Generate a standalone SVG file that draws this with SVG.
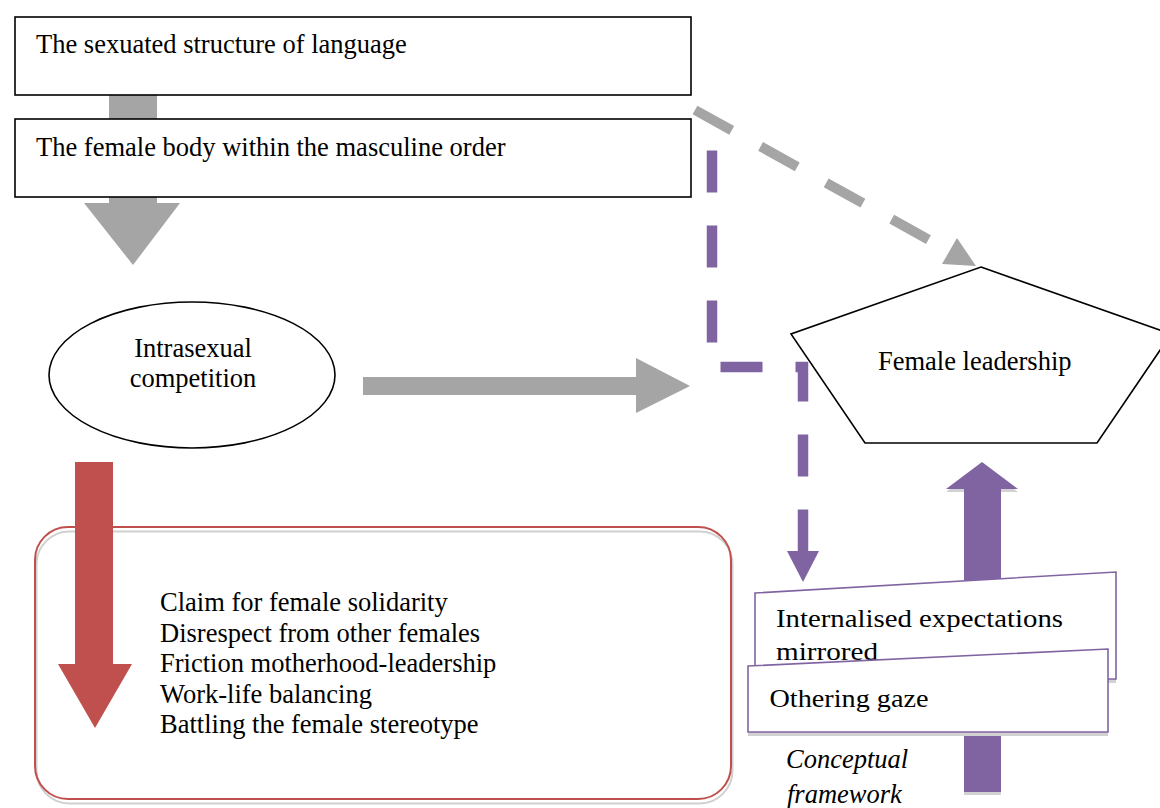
<svg xmlns="http://www.w3.org/2000/svg" width="1160" height="808" viewBox="0 0 1160 808">
<style>
.box{fill:#fff;stroke:#000;stroke-width:1.6}
.t{font-family:"Liberation Serif","Times New Roman",serif;font-size:26.5px;fill:#000}
.c{font-family:"Liberation Serif","Times New Roman",serif;font-size:25.5px;fill:#000}
.gray{fill:#a5a5a5}
.purple{fill:#8064a2}
.shadow{fill:#d2d2d2}
.pbox{fill:#fff;stroke:#8064a2;stroke-width:1.6}
</style>
<rect width="1160" height="808" fill="#fff"/>
<g id="n-list">
  <rect x="36.5" y="531.5" width="696" height="272" rx="33" fill="none" stroke="#d0d0d0" stroke-width="2"/>
  <rect x="35" y="527" width="696" height="272" rx="33" fill="none" stroke="#c0504d" stroke-width="2"/>
  <text class="t" x="160" y="611">Claim for female solidarity</text>
  <text class="t" x="160" y="641.5">Disrespect from other females</text>
  <text class="t" x="160" y="672">Friction motherhood-leadership</text>
  <text class="t" x="160" y="702.5">Work-life balancing</text>
  <text class="t" x="160" y="733">Battling the female stereotype</text>
</g>
<g id="connectors">
  <rect class="gray" x="109" y="95" width="48" height="24"/>
  <polygon class="gray" points="109,197 157,197 157,203 180,203 133,265 84,203 109,203"/>
  <polygon class="gray" points="363,377 636,377 636,358 690,386 636,413 636,395 363,395"/>
  <line x1="695" y1="110" x2="931" y2="241" stroke="#a5a5a5" stroke-width="10" stroke-dasharray="42 33"/>
  <polygon class="gray" points="942,264 957,238 976,266"/>
  <path d="M712,150.5 V367 H803 V551" fill="none" stroke="#8064a2" stroke-width="10.5" stroke-dasharray="42 33" stroke-linejoin="miter"/>
  <polygon class="purple" points="787,551 819,551 803,582"/>
  <polygon class="shadow" points="982,465 1018,492 1001,492 1001,795 964,795 964,492 946,492"/>
  <polygon class="purple" points="982,462 1018,489 1001,489 1001,792 964,792 964,489 946,489"/>
  <polygon fill="#c0504d" points="75,462 113,462 113,664 132,664 95,728 58,664 75,664"/>
</g>
<g id="n-language">
  <rect class="box" x="15" y="17" width="676" height="78"/>
  <text class="t" x="36" y="53">The sexuated structure of language</text>
</g>
<g id="n-body">
  <rect class="box" x="15" y="119" width="676" height="78"/>
  <text class="t" x="36" y="156">The female body within the masculine order</text>
</g>
<g id="n-competition">
  <ellipse class="box" cx="192" cy="375" rx="143" ry="73"/>
  <text class="t" x="193" y="357" text-anchor="middle">Intrasexual</text>
  <text class="t" x="193" y="387" text-anchor="middle">competition</text>
</g>
<g id="n-leadership">
  <polygon class="box" points="981,267 1171,334 1097,443 865,443 791,334"/>
  <text class="t" x="878" y="370">Female leadership</text>
</g>
<g id="n-internalised">
  <polygon class="shadow" points="755,597 1116,576 1116,683 755,683"/>
  <polygon class="pbox" points="755,593 1116,572 1116,679 755,679"/>
  <text class="c" x="776" y="627" textLength="287" lengthAdjust="spacingAndGlyphs">Internalised expectations</text>
  <text class="c" x="776" y="659.5" textLength="102" lengthAdjust="spacingAndGlyphs">mirrored</text>
</g>
<g id="n-othering">
  <polygon class="shadow" points="748,670 1108,653 1108,736 748,736"/>
  <polygon class="pbox" points="748,666 1108,649 1108,732 748,732"/>
  <text class="c" x="769.5" y="707" textLength="159" lengthAdjust="spacingAndGlyphs">Othering gaze</text>
</g>
<g id="caption">
  <text class="t" x="786" y="768" font-style="italic">Conceptual</text>
  <text class="t" x="787" y="803" font-style="italic">framework</text>
</g>
</svg>
